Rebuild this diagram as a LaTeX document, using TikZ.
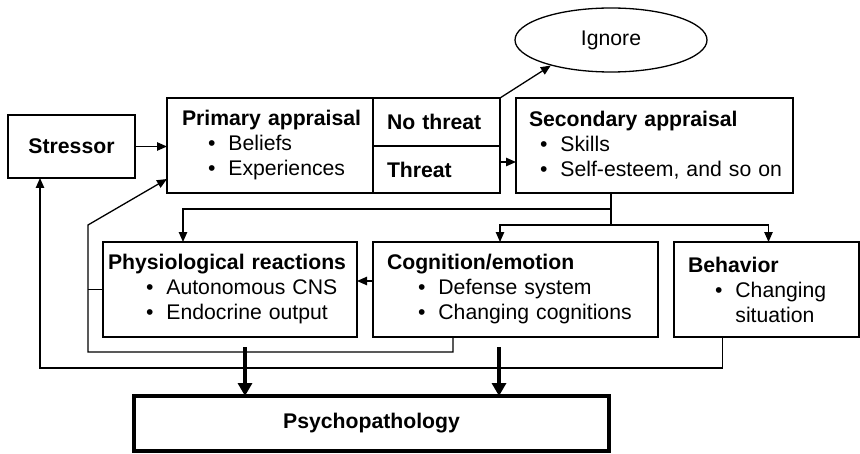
\documentclass[tikz,border=0pt]{standalone}
\usepackage{fontspec}
\setmainfont{Liberation Sans}
\usepackage{tikz}
\usetikzlibrary{shapes.geometric, arrows.meta, positioning, calc}
\newcommand{\hd}[1]{\mbox{\bfseries #1}}
\newcommand{\bitem}[2]{\mbox{\hspace*{#1}\textbullet\hspace{6.5pt}#2}}
\newcommand{\bcont}[2]{\mbox{\hspace*{#1}\phantom{\textbullet}\hspace{6.5pt}#2}}
\tikzset{
  box/.style={rectangle, draw, line width=0.65pt, align=left, inner ysep=0pt,
    outer sep=0pt, font=\fontsize{10.6}{12.5}\selectfont, minimum height=47.5pt},
  tag/.style={box, font=\fontsize{10.6}{12.5}\selectfont\bfseries,
    text width=49.5pt, inner xsep=7pt, minimum height=24pt},
  arr/.style={-{Triangle[length=5pt,width=4.2pt]}, line width=0.65pt},
  bigarr/.style={-{Triangle[length=6.5pt,width=7pt]}, line width=1.6pt},
  ln/.style={line width=0.65pt},
}

\begin{document}
\begin{tikzpicture}[x=0.5pt, y=-0.5pt]
  \useasboundingbox (0,0) rectangle (860,454);

  \node[box, align=center, font=\fontsize{10.6}{12.5}\selectfont\bfseries,
        minimum width=63.5pt, minimum height=31.5pt] (stressor) at (71.5,146.5) {Stressor};
  \node[box, text width=88pt, inner xsep=7.5pt] (primary) at (270,145.5)
        {\hd{Primary appraisal}\\\bitem{13pt}{Beliefs}\\\bitem{13pt}{Experiences}};
  \node[tag, anchor=north west, minimum height=24pt] (nothreat) at (primary.north east) {No threat};
  \node[tag, anchor=north west, minimum height=23.5pt] (threat) at (nothreat.south west) {Threat};
  \node[box, text width=125.5pt, inner xsep=6.5pt] (secondary) at (654.5,145.5)
        {\hd{Secondary appraisal}\\\bitem{5.5pt}{Skills}\\\bitem{5.5pt}{Self-esteem, and so on}};
  \node[ellipse, draw, line width=0.65pt, minimum width=96pt, minimum height=32pt,
        font=\fontsize{10.6}{12.5}\selectfont] (ignore) at (611,40) {Ignore};

  \node[box, text width=122pt, inner xsep=2.5pt] (physio) at (230,289.5)
        {\hd{Physiological reactions}\\\bitem{19pt}{Autonomous CNS}\\\bitem{19pt}{Endocrine output}};
  \node[box, text width=128.5pt, inner xsep=7pt] (cognition) at (515.5,289.5)
        {\hd{Cognition/emotion}\\\bitem{15.5pt}{Defense system}\\\bitem{15.5pt}{Changing cognitions}};
  \node[box, text width=78.5pt, inner xsep=7pt] (behavior) at (766.5,289.5)
        {\hd{Behavior}\\\bitem{13.5pt}{Changing}\\\bcont{13.5pt}{situation}};

  \node[box, align=center, font=\fontsize{10.6}{12.5}\selectfont\bfseries, line width=1.6pt,
        minimum width=237.5pt, minimum height=27.5pt] (psycho) at (371.5,423.5) {Psychopathology};

  % appraisal chain
  \draw[arr] (stressor.east) -- (stressor.east -| primary.west);
  \draw[arr] (nothreat.north east) -- (ignore.203);
  \draw[arr] ([yshift=3.75pt]threat.east) -- ([yshift=3.75pt]threat.east -| secondary.west);

  % coping branches
  \coordinate (split) at ($(secondary.south)+(-43.5,0)$);
  \draw[arr] (split) -- ++(0,16) -| ([xshift=-23.5pt]physio.north);
  \draw[arr] (split) -- ++(0,32) -| ([xshift=-7.75pt]cognition.north);
  \draw[arr] (split) -- ++(0,32) -| ([xshift=1pt]behavior.north);
  \draw[arr] ([yshift=4.25pt]cognition.west) -- ([yshift=4.25pt]physio.east);

  % feedback loops
  \draw[arr] ([xshift=-31.25pt]cognition.south) -- ++(0,15) -| (88,225)
        -- ([yshift=7pt]primary.south west);
  \draw[ln] (physio.west) -- ++(-15,0);
  \draw[arr] ([xshift=-22pt]behavior.south) -- ++(0,31) -| ([xshift=-15.75pt]stressor.south);

  % outcome
  \coordinate (p1) at ([xshift=7.5pt,yshift=-5pt]physio.south);
  \coordinate (p2) at ([xshift=-8.25pt,yshift=-5pt]cognition.south);
  \draw[bigarr] (p1) -- (p1 |- psycho.north);
  \draw[bigarr] (p2) -- (p2 |- psycho.north);
\end{tikzpicture}
\end{document}
